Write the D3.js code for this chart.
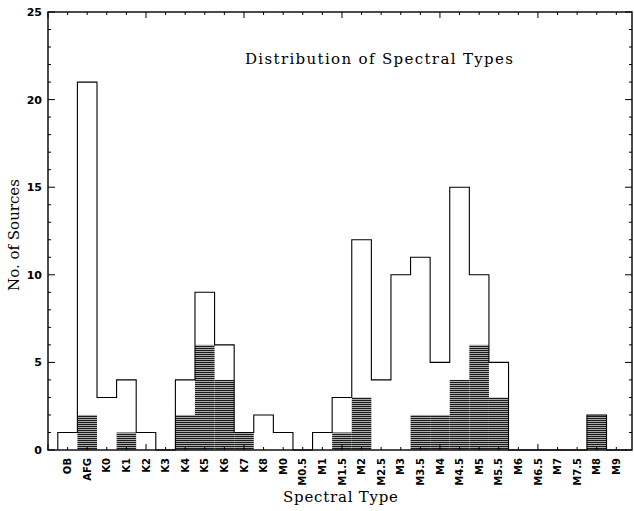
<!DOCTYPE html>
<html>
<head>
<meta charset="utf-8">
<script src="https://cdn.jsdelivr.net/npm/d3@7"></script>
<style>
  body { margin: 0; background: #fff; }
  svg { display: block; }
</style>
</head>
<body>
<script>
// spectral type bins, total counts and shaded (hatched) counts
var types = ["OB", "AFG", "K0", "K1", "K2", "K3", "K4", "K5", "K6", "K7", "K8", "M0", "M0.5",
             "M1", "M1.5", "M2", "M2.5", "M3", "M3.5", "M4", "M4.5", "M5", "M5.5",
             "M6", "M6.5", "M7", "M7.5", "M8", "M9"];
var totals = [1, 21, 3, 4, 1, 0, 4, 9, 6, 1, 2, 1, 0,
              1, 3, 12, 4, 10, 11, 5, 15, 10, 5,
              0, 0, 0, 0, 2, 0];
var shaded = [0, 2, 0, 1, 0, 0, 2, 6, 4, 1, 0, 0, 0,
              0, 1, 3, 0, 0, 2, 2, 4, 6, 3,
              0, 0, 0, 0, 2, 0];
var yTicks = [0, 5, 10, 15, 20, 25];

var w = 634;
var h = 511;

var svg = d3.select("body")
            .append("svg")
            .attr("width", w)
            .attr("height", h);

// scales
var xScale = d3.scaleLinear()
  .domain([-1, 28.8])
  .range([48, 632]);

var yScale = d3.scaleLinear()
  .domain([0, 25])
  .range([450, 12]);

// horizontal line hatching
var pat = svg.append("defs").append("pattern")
  .attr("id", "hatch")
  .attr("patternUnits", "userSpaceOnUse")
  .attr("width", 4)
  .attr("height", 2);
pat.append("rect").attr("width", 4).attr("height", 2).attr("fill", "#aaaaaa");
pat.append("rect").attr("width", 4).attr("height", 1).attr("fill", "#1a1a1a");

// hatched bars
var shadedBins = shaded
  .map(function(d, i) { return {i: i, v: d}; })
  .filter(function(d) { return d.v > 0; });

svg.selectAll(".shade")
  .data(shadedBins)
  .enter().append("rect")
  .attr("class", "shade")
  .attr("x", function(d) { return xScale(d.i - 0.5); })
  .attr("width", function(d) { return xScale(d.i + 0.5) - xScale(d.i - 0.5); })
  .attr("y", function(d) { return yScale(d.v); })
  .attr("height", function(d) { return yScale(0) - yScale(d.v); })
  .attr("fill", "url(#hatch)");

// outline of total histogram as a step line
var steps = [[xScale(-0.5), yScale(0)]];
totals.forEach(function(v, i) {
  steps.push([xScale(i - 0.5), yScale(v)]);
  steps.push([xScale(i + 0.5), yScale(v)]);
});
steps.push([xScale(totals.length - 0.5), yScale(0)]);

svg.append("path")
  .attr("d", d3.line()(steps))
  .attr("fill", "none")
  .attr("stroke", "#000")
  .attr("stroke-width", 1.1);

// ticks on all four sides, pointing inward
var xt = d3.range(-1, 29);
var yt = d3.range(0, 26);
function xLen(i) { return (i + 1) % 5 === 0 ? 6 : 3; }
function yLen(v) { return v % 5 === 0 ? 7 : 3; }

svg.selectAll(".xtop").data(xt).enter().append("line")
  .attr("x1", function(d) { return xScale(d); })
  .attr("x2", function(d) { return xScale(d); })
  .attr("y1", yScale(25))
  .attr("y2", function(d) { return yScale(25) + xLen(d); })
  .attr("stroke", "#000");

svg.selectAll(".xbot").data(xt).enter().append("line")
  .attr("x1", function(d) { return xScale(d); })
  .attr("x2", function(d) { return xScale(d); })
  .attr("y1", yScale(0))
  .attr("y2", function(d) { return yScale(0) - xLen(d); })
  .attr("stroke", "#000");

svg.selectAll(".yleft").data(yt).enter().append("line")
  .attr("x1", xScale.range()[0])
  .attr("x2", function(d) { return xScale.range()[0] + yLen(d); })
  .attr("y1", function(d) { return yScale(d); })
  .attr("y2", function(d) { return yScale(d); })
  .attr("stroke", "#000");

svg.selectAll(".yright").data(yt).enter().append("line")
  .attr("x1", xScale.range()[1])
  .attr("x2", function(d) { return xScale.range()[1] - yLen(d); })
  .attr("y1", function(d) { return yScale(d); })
  .attr("y2", function(d) { return yScale(d); })
  .attr("stroke", "#000");

// frame
svg.append("rect")
  .attr("x", xScale.range()[0])
  .attr("y", yScale(25))
  .attr("width", xScale.range()[1] - xScale.range()[0])
  .attr("height", yScale(0) - yScale(25))
  .attr("fill", "none")
  .attr("stroke", "#000")
  .attr("stroke-width", 1.4);

// y tick labels
svg.selectAll(".ylab").data(yTicks).enter().append("text")
  .attr("x", 42)
  .attr("y", function(d) { return yScale(d); })
  .attr("dy", "0.36em")
  .attr("text-anchor", "end")
  .style("font-family", "DejaVu Sans")
  .style("font-weight", "bold")
  .style("font-size", "11px")
  .text(function(d) { return d; });

// x category labels, rotated
svg.selectAll(".xlab").data(types).enter().append("text")
  .attr("transform", function(d, i) {
    return "translate(" + xScale(i) + ",458) rotate(-90)";
  })
  .attr("dy", "0.36em")
  .attr("text-anchor", "end")
  .style("font-family", "DejaVu Sans")
  .style("font-weight", "bold")
  .style("font-size", "10px")
  .text(function(d) { return d; });

// titles
svg.append("text")
  .attr("x", 245)
  .attr("y", 64)
  .attr("textLength", 268)
  .attr("lengthAdjust", "spacing")
  .style("font-family", "DejaVu Serif")
  .style("font-size", "15px")
  .text("Distribution of Spectral Types");

svg.append("text")
  .attr("x", 283)
  .attr("y", 502)
  .attr("textLength", 115)
  .attr("lengthAdjust", "spacing")
  .style("font-family", "DejaVu Serif")
  .style("font-size", "15px")
  .text("Spectral Type");

svg.append("text")
  .attr("transform", "translate(19,235) rotate(-90)")
  .attr("text-anchor", "middle")
  .style("font-family", "DejaVu Serif")
  .style("font-size", "15px")
  .text("No. of Sources");
</script>
</body>
</html>
